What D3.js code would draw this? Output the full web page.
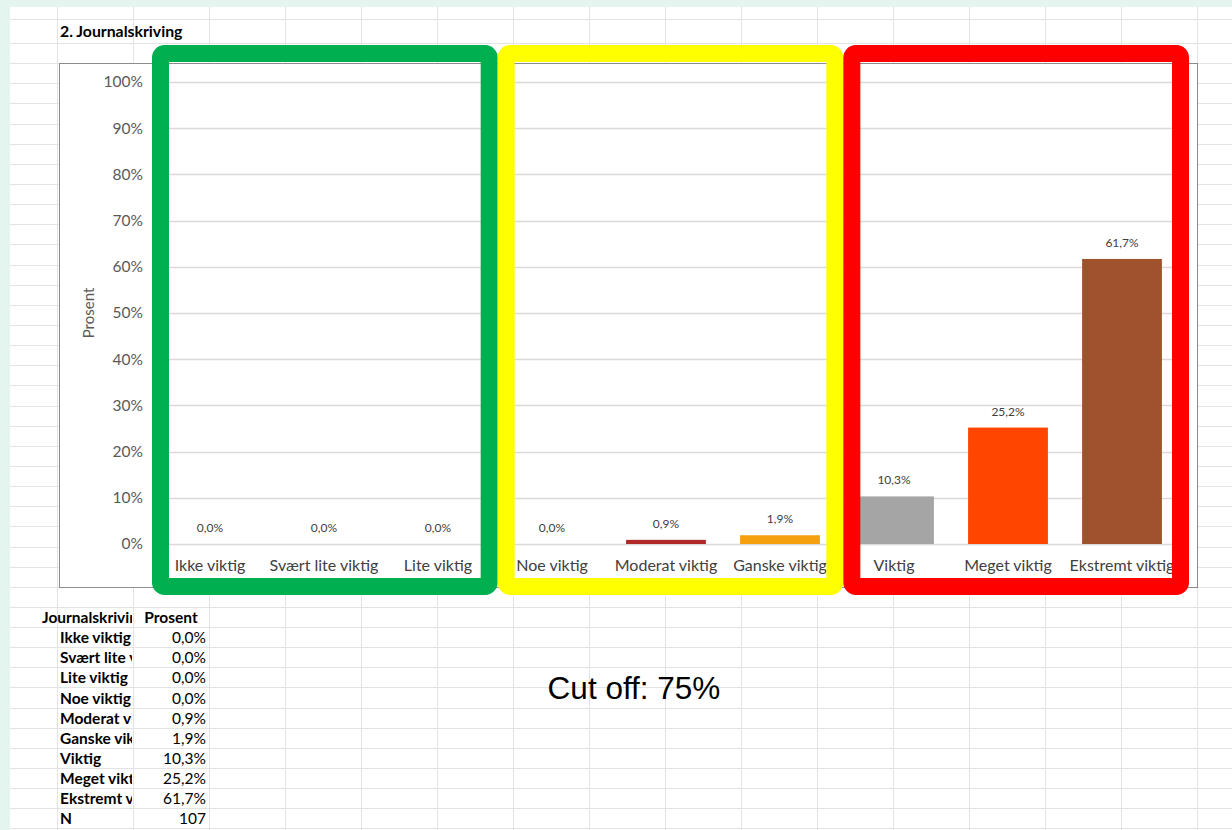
<!DOCTYPE html>
<html>
<head>
<meta charset="utf-8">
<script src="https://cdn.jsdelivr.net/npm/d3@7"></script>
<style>
  body { margin: 0; background: #e4f4ee; }
  svg { display: block; }
</style>
</head>
<body>
<div id="chart"></div>
<script>
// chart data
const categories = ["Ikke viktig", "Svært lite viktig", "Lite viktig", "Noe viktig", "Moderat viktig",
  "Ganske viktig", "Viktig", "Meget viktig", "Ekstremt viktig"];
const percents = [0.0, 0.0, 0.0, 0.0, 0.9, 1.9, 10.3, 25.2, 61.7];
const barColors = ["#a5a5a5", "#a5a5a5", "#a5a5a5", "#a5a5a5", "#b02a2a", "#f5a00f", "#a5a5a5", "#ff4500", "#a0522d"];
const yTicks = [0, 10, 20, 30, 40, 50, 60, 70, 80, 90, 100];
const respondents = 107;
// groups drawn as frames over the chart (first and last category index)
const groups = [
  { first: 0, last: 2, color: "#00b050" },
  { first: 3, last: 5, color: "#ffff00" },
  { first: 6, last: 8, color: "#ff0000" }
];

const width = 1232; // width
const height = 830; // height
const fmt = v => d3.format(".1f")(v).replace(".", ",") + "%";

const svg = d3.select("#chart")
  .append("svg")
  .attr("width", width)
  .attr("height", height);

// sheet background
svg.append("rect")
  .attr("x", 10).attr("y", 7)
  .attr("width", width - 10).attr("height", height - 7)
  .attr("fill", "#ffffff");

// sheet grid
const grid = svg.append("g").attr("stroke", "#e3e3e3").attr("stroke-width", 1);
d3.range(57, width, 76).forEach(x => {
  grid.append("line").attr("x1", x + 0.5).attr("x2", x + 0.5).attr("y1", 7).attr("y2", height);
});
[19].concat(d3.range(0, 40).map(k => Math.round(43 + k * 20.14))).forEach(y => {
  grid.append("line").attr("x1", 10).attr("x2", width).attr("y1", y + 0.5).attr("y2", y + 0.5);
});

// title
svg.append("text")
  .attr("x", 60)
  .attr("y", 37)
  .style("font-family", "Lato")
  .style("font-weight", "bold")
  .style("font-size", "15.8px")
  .attr("fill", "#000")
  .text("2. Journalskriving");

// chart area
svg.append("rect")
  .attr("x", 59.5).attr("y", 63.5)
  .attr("width", 1138).attr("height", 524)
  .attr("fill", "#fff")
  .attr("stroke", "#8c8c8c");

const xScale = d3.scaleBand()
  .domain(categories)
  .range([153, 1179])
  .paddingInner(0.3)
  .paddingOuter(0.15);

const yScale = d3.scaleLinear()
  .domain([0, 100])
  .range([544, 82]);

// gridlines
svg.append("g")
  .selectAll("line")
  .data(yTicks)
  .enter()
  .append("line")
  .attr("x1", 153).attr("x2", 1179)
  .attr("y1", d => Math.round(yScale(d)) + 0.5)
  .attr("y2", d => Math.round(yScale(d)) + 0.5)
  .attr("stroke", "#d9d9d9")
  .attr("stroke-width", 1.5);

// y axis
const yAxis = svg.append("g")
  .attr("transform", "translate(150, 0)")
  .call(d3.axisLeft(yScale).tickValues(yTicks).tickFormat(d => d + "%").tickSize(0).tickPadding(7));
yAxis.select(".domain").remove();
yAxis.selectAll("text")
  .style("font-family", "Lato")
  .style("font-size", "15.5px")
  .attr("fill", "#595959");

svg.append("text")
  .attr("transform", "rotate(-90)")
  .attr("x", -313)
  .attr("y", 94)
  .attr("text-anchor", "middle")
  .style("font-family", "Lato")
  .style("font-size", "15px")
  .attr("fill", "#595959")
  .text("Prosent");

// bars
svg.selectAll(".bar")
  .data(categories)
  .enter()
  .append("rect")
  .attr("class", "bar")
  .attr("x", d => xScale(d))
  .attr("width", xScale.bandwidth())
  .attr("y", (d, i) => yScale(percents[i]))
  .attr("height", (d, i) => yScale(0) - yScale(percents[i]))
  .attr("fill", (d, i) => barColors[i]);

// value labels
svg.selectAll(".value")
  .data(categories)
  .enter()
  .append("text")
  .attr("class", "value")
  .attr("x", d => xScale(d) + xScale.bandwidth() / 2)
  .attr("y", (d, i) => yScale(percents[i]) - 12)
  .attr("text-anchor", "middle")
  .style("font-family", "Lato")
  .style("font-size", "12px")
  .attr("fill", "#404040")
  .text((d, i) => fmt(percents[i]));

// x axis labels
const xAxis = svg.append("g")
  .attr("transform", "translate(0, 544)")
  .call(d3.axisBottom(xScale).tickSize(0).tickPadding(16));
xAxis.select(".domain").remove();
xAxis.selectAll("text")
  .style("font-family", "Lato")
  .style("font-size", "16px")
  .attr("fill", "#404040");

// group frames
const frameScale = d3.scaleLinear().domain([0, 9]).range([152, 1189]);
const sw = 17;
svg.selectAll(".frame")
  .data(groups)
  .enter()
  .append("rect")
  .attr("class", "frame")
  .attr("x", d => frameScale(d.first) + sw / 2)
  .attr("y", 45 + sw / 2)
  .attr("width", d => frameScale(d.last + 1) - frameScale(d.first) - sw)
  .attr("height", 550 - sw)
  .attr("rx", 4)
  .attr("fill", "none")
  .attr("stroke", d => d.color)
  .attr("stroke-width", sw);

// table under the chart
svg.append("defs").append("clipPath")
  .attr("id", "col-a")
  .append("rect")
  .attr("x", 10).attr("y", 600).attr("width", 122).attr("height", 230);

const rowY = i => 623 + i * 20.14;
const table = svg.append("g")
  .style("font-family", "Lato")
  .style("font-size", "15.5px")
  .attr("fill", "#000");

table.append("text")
  .attr("x", 42).attr("y", rowY(0))
  .attr("clip-path", "url(#col-a)")
  .style("font-weight", "bold")
  .text("Journalskriving");
table.append("text")
  .attr("x", 171).attr("y", rowY(0))
  .attr("text-anchor", "middle")
  .style("font-weight", "bold")
  .text("Prosent");

const rows = categories.map((c, i) => ({ label: c, value: fmt(percents[i]) }))
  .concat([{ label: "N", value: String(respondents) }]);

table.selectAll(".row-label")
  .data(rows)
  .enter()
  .append("text")
  .attr("class", "row-label")
  .attr("x", 60)
  .attr("y", (d, i) => rowY(i + 1))
  .attr("clip-path", "url(#col-a)")
  .style("font-weight", "bold")
  .text(d => d.label);

table.selectAll(".row-value")
  .data(rows)
  .enter()
  .append("text")
  .attr("class", "row-value")
  .attr("x", 206)
  .attr("y", (d, i) => rowY(i + 1))
  .attr("text-anchor", "end")
  .text(d => d.value);

// cut off note
svg.append("text")
  .attr("x", 634)
  .attr("y", 699)
  .attr("text-anchor", "middle")
  .style("font-family", "Liberation Sans")
  .style("font-size", "31.5px")
  .attr("fill", "#000")
  .text("Cut off: 75%");
</script>
</body>
</html>
